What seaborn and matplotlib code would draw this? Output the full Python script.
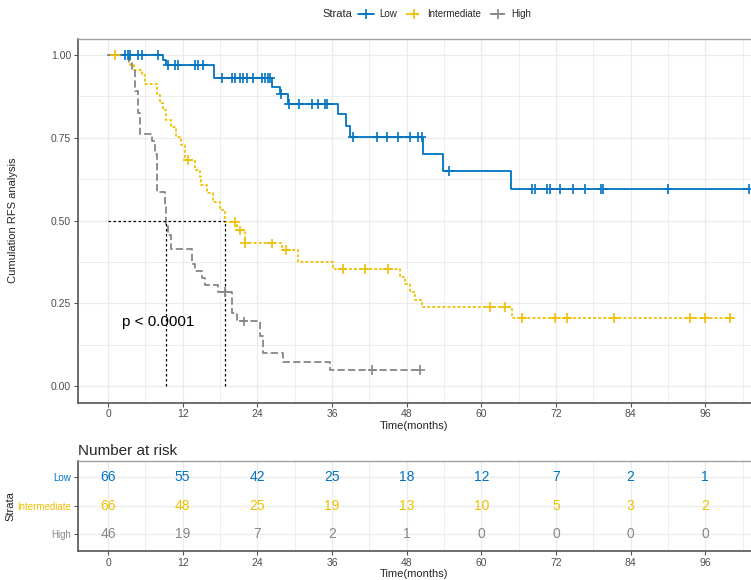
import numpy as np
import pandas as pd
import matplotlib
matplotlib.use("Agg")
import matplotlib.pyplot as plt
from matplotlib.lines import Line2D
import seaborn as sns

# strata and colours (JCO palette)
groups = ["Low", "Intermediate", "High"]
colors = ["#0073C2", "#EFC000", "#868686"]

# step curves: time of each step and survival after it
low_time = [0, 8.8, 9.3, 17.0, 26.3, 27.6, 28.9, 36.9, 38.2, 38.9, 50.6, 53.8, 64.7, 103.0]
low_surv = [1.0, 0.985, 0.969, 0.930, 0.903, 0.882, 0.853, 0.822, 0.785, 0.752, 0.700, 0.650, 0.596, 0.596]
low_cens = [2.8, 3.2, 3.5, 4.8, 5.5, 8.0, 9.6, 10.8, 11.2, 14.0, 14.5, 15.3, 18.3, 19.9, 20.4,
            21.2, 21.7, 22.3, 23.3, 24.7, 25.2, 25.7, 26.0, 27.8, 29.1, 30.7, 32.8, 33.7, 34.9,
            35.2, 39.4, 43.2, 44.8, 46.6, 48.5, 49.8, 50.4, 54.8, 68.2, 68.6, 70.6, 71.1, 72.7,
            74.7, 76.6, 79.3, 79.6, 90.0, 103.0]

mid_time = [0, 3.6, 4.1, 5.4, 5.9, 7.8, 8.4, 8.9, 9.4, 10.2, 11.0, 11.8, 12.4, 14.0, 14.8, 15.0,
            15.9, 16.9, 18.0, 18.8, 20.8, 22.0, 27.9, 30.6, 36.2, 46.9, 47.7, 48.5, 49.3, 50.5,
            65.0, 100.0]
mid_surv = [1.0, 0.970, 0.955, 0.940, 0.914, 0.879, 0.854, 0.834, 0.804, 0.783, 0.753, 0.728,
            0.683, 0.653, 0.632, 0.607, 0.582, 0.557, 0.532, 0.496, 0.470, 0.431, 0.411, 0.375,
            0.353, 0.330, 0.307, 0.284, 0.261, 0.238, 0.205, 0.205]
mid_cens = [1.1, 12.9, 20.4, 21.2, 22.0, 26.3, 28.6, 37.7, 41.3, 45.0, 61.4, 63.8, 66.6, 71.8,
            73.8, 81.3, 93.6, 95.9, 100.0]

high_time = [0, 3.3, 3.8, 4.3, 4.9, 5.1, 7.0, 7.6, 7.8, 9.2, 9.4, 9.7, 10.2, 13.5, 14.0, 15.1,
             15.6, 17.7, 19.9, 20.7, 24.4, 24.9, 28.2, 35.7, 50.2]
high_surv = [1.0, 0.978, 0.957, 0.891, 0.826, 0.761, 0.739, 0.700, 0.587, 0.543, 0.490, 0.456,
             0.413, 0.370, 0.348, 0.326, 0.304, 0.283, 0.220, 0.195, 0.150, 0.099, 0.073, 0.048,
             0.048]
high_cens = [18.8, 21.8, 42.5, 50.2]

# number at risk table
risk_times = [0, 12, 24, 36, 48, 60, 72, 84, 96]
risk_low = [66, 55, 42, 25, 18, 12, 7, 2, 1]
risk_mid = [66, 48, 25, 19, 13, 10, 5, 3, 2]
risk_high = [46, 19, 7, 2, 1, 0, 0, 0, 0]

curves = {"Low": (low_time, low_surv, low_cens),
          "Intermediate": (mid_time, mid_surv, mid_cens),
          "High": (high_time, high_surv, high_cens)}
risk = {"Low": risk_low, "Intermediate": risk_mid, "High": risk_high}

sns.set_theme(style="white")
plt.rcParams['font.family'] = ['Liberation Sans', 'DejaVu Sans']

# build tables for seaborn
curve_rows = []
cens_rows = []
medians = {}
for g in groups:
    t, s, c = curves[g]
    t = np.array(t)
    s = np.array(s)
    curve_rows.append(pd.DataFrame({"time": t, "surv": s, "strata": g}))
    idx = np.searchsorted(t, c, side="right") - 1
    cens_rows.append(pd.DataFrame({"time": c, "surv": s[idx], "strata": g}))
    below = np.where(s <= 0.5)[0]
    if len(below):
        medians[g] = t[below[0]]
curve_df = pd.concat(curve_rows, ignore_index=True)
cens_df = pd.concat(cens_rows, ignore_index=True)

W, H = 751, 580
fig = plt.figure(figsize=(W / 100, H / 100), dpi=100)
px_per_month = 6.222
x_left = -30 / px_per_month
ax_w = 702
x_right = x_left + ax_w / px_per_month

ax = fig.add_axes([78 / W, 1 - 402.5 / H, ax_w / W, (402.5 - 38.5) / H])
ax2 = fig.add_axes([78 / W, 1 - 551 / H, ax_w / W, (551 - 460.5) / H])

# survival curves
sns.lineplot(data=curve_df, x="time", y="surv", hue="strata", style="strata",
             hue_order=groups, style_order=groups, palette=colors,
             dashes={"Low": "", "Intermediate": (1.6, 1.2), "High": (4, 1.8)},
             drawstyle="steps-post", estimator=None, sort=False, linewidth=1.3,
             legend=False, ax=ax)
sns.scatterplot(data=cens_df, x="time", y="surv", hue="strata", hue_order=groups,
                palette=colors, marker="+", s=48, linewidth=1.2, legend=False, ax=ax,
                zorder=3)

# median lines
med_max = max(medians.values())
ax.plot([0, med_max], [0.5, 0.5], color="black", linestyle=(0, (2, 2)), linewidth=0.9)
for g, m in medians.items():
    ax.plot([m, m], [0, 0.5], color="black", linestyle=(0, (2, 2)), linewidth=0.9)

ax.text(2.25, 0.193, "p < 0.0001", fontsize=11, ha="left", va="center", color="black")

# risk table
for i, g in enumerate(groups):
    for t, n in zip(risk_times, risk[g]):
        ax2.text(t, i + 1, str(n), ha="center", va="center", fontsize=10, color=colors[i])

grid_c = "#EBEBEB"
dark = "#555555"
for a in (ax, ax2):
    a.set_xlim(x_left, x_right)
    a.set_xticks(risk_times)
    a.set_xticks([t + 6 for t in risk_times], minor=True)
    a.grid(True, which="major", color=grid_c, linewidth=0.9)
    a.grid(True, which="minor", color=grid_c, linewidth=0.6)
    a.set_axisbelow(True)
    a.spines["left"].set_color(dark)
    a.spines["bottom"].set_color(dark)
    a.spines["left"].set_linewidth(1.2)
    a.spines["bottom"].set_linewidth(1.2)
    a.spines["top"].set_color("#A0A0A0")
    a.spines["top"].set_linewidth(1.0)
    a.spines["right"].set_visible(False)
    a.tick_params(axis="both", which="major", length=3, width=0.8, color=dark,
                  labelsize=7.5, labelcolor="#4D4D4D", pad=2, left=True, bottom=True)
    a.tick_params(axis="both", which="minor", length=0)
    a.set_xlabel("Time(months)", fontsize=8, labelpad=1)

ax2.tick_params(axis="y", labelsize=7)

ax.xaxis.set_label_coords((414.5 - 78) / ax_w, -0.052)
ax2.xaxis.set_label_coords((414.5 - 78) / ax_w, -0.20)

ax.set_ylim(-0.05, 1.05)
ax.set_yticks([0, 0.25, 0.5, 0.75, 1.0])
ax.set_yticklabels(["0.00", "0.25", "0.50", "0.75", "1.00"])
ax.set_yticks([0.125, 0.375, 0.625, 0.875], minor=True)
ax.set_ylabel("Cumulation RFS analysis", fontsize=8)
ax.yaxis.set_label_coords((18 - 78) / ax_w, 0.5)

ax2.set_ylim(3.6, 0.4)
ax2.set_yticks([1, 2, 3])
ax2.set_yticklabels(groups)
ax2.set_yticks([1.5, 2.5], minor=True)
ax2.grid(False, axis="y", which="minor")
for lab, c in zip(ax2.get_yticklabels(), colors):
    lab.set_color(c)
ax2.set_ylabel("Strata", fontsize=8)
ax2.yaxis.set_label_coords((15 - 78) / ax_w, 0.5)
ax2.set_title("Number at risk", loc="left", fontsize=11, pad=4)

# legend at top
fig.text(322 / W, 1 - 14 / H, "Strata", fontsize=8, ha="left", va="center")
handles = [Line2D([0], [0], color=colors[0], lw=1.3, marker="+", markersize=7, mew=1.2),
           Line2D([0], [0], color=colors[1], lw=1.3, ls=(0, (1.6, 1.2)), marker="+",
                  markersize=7, mew=1.2),
           Line2D([0], [0], color=colors[2], lw=1.3, ls=(0, (4, 1.8)), marker="+",
                  markersize=7, mew=1.2)]
fig.legend(handles, groups, loc="center left", bbox_to_anchor=(358 / W, 1 - 14 / H),
           ncol=3, frameon=False, fontsize=7, handlelength=1.6, columnspacing=0.9,
           handletextpad=0.6, borderaxespad=0, borderpad=0)

fig.savefig("out.png", dpi=100)
